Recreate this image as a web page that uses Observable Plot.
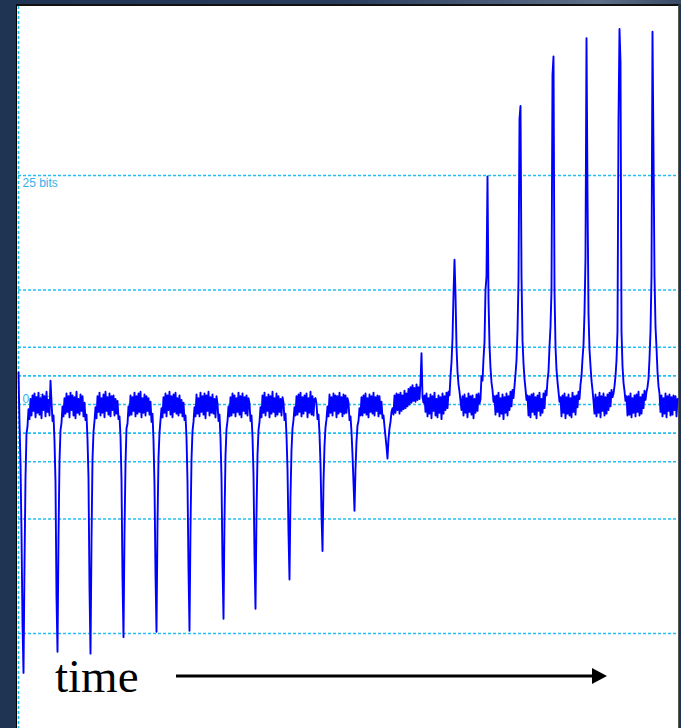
<!DOCTYPE html>
<html>
<head>
<meta charset="utf-8">
<script src="https://cdn.jsdelivr.net/npm/d3@7"></script>
<script src="https://cdn.jsdelivr.net/npm/@observablehq/plot@0.6"></script>
<style>
  html, body { margin: 0; padding: 0; }
  body { width: 681px; height: 728px; overflow: hidden; background: #1f3352; position: relative; }
  #topbar { position: absolute; left: 0; top: 0; width: 681px; height: 4px;
    background: linear-gradient(to right, #1f3352 0%, #283d5d 50%, #5f6e88 88%, #3a4a66 100%); }
  #panel { position: absolute; left: 16px; top: 4px; width: 663px; height: 724px; background: #fff;
    box-sizing: border-box; border-top: 2px solid #111; border-left: 1px solid #000; border-right: 1px solid #555; }
  #chart { position: absolute; left: 18px; top: 6px; }
  #overlay { position: absolute; left: 0; top: 0; }
</style>
</head>
<body>
<div id="topbar"></div>
<div id="panel"></div>
<div id="chart"></div>
<svg id="overlay" width="681" height="728">
  <text x="55" y="692" font-family="'Liberation Serif', 'Times New Roman', serif" font-size="47" fill="#000">time</text>
  <line x1="176" y1="676" x2="594" y2="676" stroke="#000" stroke-width="3"></line>
  <polygon points="592,668 607,676 592,684" fill="#000"></polygon>
</svg>
<script>
// Detector output sampled once per time step (bits), one row per 33-step cycle.
const signal = [
  3.5, -2.0, -6.5, -14.0, -24.0, -29.3, -17.5, -8.0, -3.2, -2.4, -0.5, -1.6, 0.6, -1.2, 1.0, -0.7, 1.2, -1.4, 0.8, -0.9, 1.3, -1.1, 0.7, -1.5, 1.1, -0.6, 0.9, -1.3, 1.4, -0.8, 0.5, -1.2, 2.6,
  0.3, -1.8, -1.2, -4.0, -8.5, -21.0, -27.0, -14.5, -6.2, -2.8, -2.0, -0.2, -1.3, 0.7, -1.0, 1.2, -0.8, 0.9, -1.4, 1.3, -0.6, 1.0, -1.2, 0.8, -1.5, 1.4, -0.9, 0.6, -1.1, 1.1, -0.7, 0.9, -1.3,
  0.2, -1.7, -1.1, -3.8, -8.0, -20.0, -27.2, -15.0, -6.0, -3.0, -1.8, -0.3, -1.5, 0.9, -0.8, 1.3, -1.2, 0.7, -0.9, 1.1, -1.4, 1.4, -0.7, 0.8, -1.1, 1.2, -1.3, 0.9, -0.6, 1.0, -1.2, 0.6, -1.0,
  0.4, -1.6, -1.3, -3.5, -8.2, -19.0, -25.4, -14.0, -6.5, -2.6, -2.1, -0.2, -1.2, 1.0, -1.1, 0.8, -0.7, 1.3, -1.3, 0.9, -1.0, 1.2, -0.8, 1.4, -1.4, 0.7, -0.9, 1.1, -1.2, 0.9, -0.7, 0.7, -1.1,
  0.3, -1.9, -1.0, -3.9, -8.8, -18.5, -24.8, -13.0, -5.8, -3.1, -1.7, -0.4, -1.4, 0.8, -0.9, 1.2, -1.3, 1.0, -0.6, 1.4, -1.1, 0.9, -1.4, 1.1, -0.8, 1.3, -1.0, 0.7, -1.2, 1.0, -0.9, 0.5, -1.3,
  0.2, -1.7, -1.2, -3.6, -8.4, -18.0, -24.7, -13.5, -6.0, -2.9, -1.9, -0.3, -1.3, 1.1, -1.0, 0.7, -1.3, 1.3, -0.8, 0.9, -1.1, 1.2, -1.5, 1.0, -0.7, 1.4, -1.2, 0.8, -0.9, 1.1, -1.0, 0.6, -1.4,
  0.9, 0.1, -1.8, -1.1, -3.7, -8.0, -17.5, -23.4, -12.5, -5.6, -2.7, -1.8, -0.2, -1.3, 0.8, -1.2, 1.2, -0.9, 1.0, -1.3, 0.7, -0.8, 1.3, -1.1, 0.9, -1.4, 1.2, -0.7, 0.8, -1.0, 1.0, -1.2, 0.7,
  0.1, -1.8, -1.2, -3.5, -7.6, -16.5, -22.3, -12.0, -5.5, -2.8, -1.9, -0.3, -1.4, 1.0, -0.9, 1.3, -1.2, 0.8, -0.7, 1.1, -1.4, 0.9, -1.0, 1.4, -0.8, 0.7, -1.3, 1.2, -1.1, 0.9, -0.8, 0.6, -1.2,
  0.8, 0.2, -1.7, -1.0, -3.4, -7.0, -14.0, -19.1, -10.0, -5.0, -2.6, -1.7, -0.3, -1.2, 0.9, -1.1, 1.1, -0.8, 1.3, -1.3, 0.8, -1.0, 1.0, -0.7, 1.2, -1.4, 0.7, -0.9, 1.4, -1.1, 0.9, -1.2, 0.6,
  0.7, 0.1, -1.6, -1.1, -3.2, -6.5, -12.0, -16.0, -8.5, -4.5, -2.5, -1.6, -0.2, -1.3, 1.1, -0.9, 0.8, -1.2, 1.2, -0.7, 1.0, -1.4, 0.9, -1.0, 1.3, -0.8, 0.8, -1.3, 1.1, -1.0, 1.0, -0.9, 0.7,
  0.2, -1.7, -1.3, -3.0, -5.5, -8.5, -11.6, -7.0, -4.0, -2.3, -1.8, -0.4, -1.2, 0.8, -1.2, 1.0, -0.9, 1.2, -1.1, 0.7, -1.4, 1.1, -0.8, 0.9, -1.0, 1.3, -1.2, 0.8, -0.7, 1.0, -1.3, 0.9, -1.0,
  0.3, -1.5, -1.2, -2.4, -3.5, -4.6, -5.9, -3.8, -2.6, -1.9, -0.8, -0.4, -1.1, 1.0, -0.9, 1.2, -0.6, 1.1, -1.0, 1.3, -0.7, 1.0, -0.5, 1.5, -0.4, 1.2, -0.2, 1.7, 0.0, 1.9, 0.2, 2.1, 0.4,
  1.8, 0.3, 2.2, 0.5, 1.9, 0.6, 2.4, 5.6, 0.8, 0.2, 1.0, -0.8, 1.2, -1.3, 0.7, -1.0, 1.1, -1.5, 0.9, -0.7, 1.3, -1.2, 0.6, -1.4, 1.0, -0.9, 0.8, -1.6, 1.2, -1.0, 0.9, -0.6, 1.3,
  -0.4, 1.4, 1.0, 3.1, 4.6, 7.2, 12.0, 15.8, 12.0, 6.3, 3.6, 2.2, 1.4, 0.4, -0.6, 0.9, -1.2, 1.1, -0.9, 0.7, -1.4, 1.2, -0.8, 0.9, -1.1, 1.0, -1.5, 0.6, -0.9, 1.1, -0.7, 1.2, 0.1,
  0.6, 3.1, 2.6, 5.0, 6.8, 12.5, 14.0, 24.9, 11.5, 6.5, 4.0, 2.4, 1.6, 0.3, 0.9, -1.1, 1.0, -0.8, 1.3, -1.3, 0.7, -1.0, 1.1, -1.6, 0.8, -0.9, 1.2, -1.2, 0.9, -0.6, 1.4, -0.2, 1.6,
  0.7, 2.0, 3.3, 4.8, 8.0, 13.5, 31.2, 32.6, 14.0, 7.0, 4.5, 2.8, 1.7, 0.5, 1.0, -1.2, 0.9, -1.4, 1.1, -0.8, 1.2, -1.1, 0.8, -1.5, 1.0, -0.7, 1.3, -1.2, 0.6, -0.9, 1.2, -0.4, 1.5,
  1.0, 2.6, 3.6, 6.3, 8.5, 12.5, 36.0, 38.0, 12.5, 6.3, 3.8, 2.5, 1.4, 0.3, 0.8, -1.3, 1.0, -0.9, 1.2, -1.5, 0.8, -1.0, 1.1, -1.2, 0.7, -1.4, 1.3, -0.8, 0.9, -1.1, 1.0, -0.3, 1.4,
  0.6, 2.2, 3.1, 5.0, 6.5, 10.0, 16.0, 40.0, 23.0, 10.0, 6.0, 4.2, 2.6, 1.6, 0.4, -1.0, 1.1, -1.3, 0.8, -0.9, 1.3, -1.4, 0.9, -0.7, 1.2, -1.2, 0.8, -1.0, 1.1, -0.6, 1.3, -0.2, 1.6,
  0.8, 1.2, 2.0, 3.1, 4.8, 8.0, 31.0, 41.0, 37.3, 8.0, 4.2, 2.4, 1.5, 0.4, 0.9, -1.2, 0.9, -1.1, 1.2, -1.4, 0.7, -0.9, 1.0, -1.3, 1.1, -0.8, 1.4, -1.2, 0.8, -1.0, 1.1, -0.4, 1.5,
  0.5, 1.4, 1.9, 2.8, 5.0, 8.0, 14.0, 40.7, 27.5, 14.0, 8.5, 6.2, 3.6, 2.0, 1.2, -0.8, 1.0, -1.3, 0.7, -1.0, 1.2, -1.4, 0.9, -0.7, 1.1, -1.2, 0.8, -1.1, 1.0, -0.6, 0.9, -1.3, 0.6
];

// Horizontal reference levels (bits) and the two labelled ones.
const gridLevels = [-25, -12.5, -6.25, -3.125, 0, 3.125, 6.25, 12.5, 25];
const upperLabel = ["25 bits"];
const upperLabelLevel = [25];
const zeroLabel = ["0 bits"];
const zeroLabelLevel = [0];

const gridColor = "#22c0f2";
const labelColor = "#38b0ea";
const traceColor = "#0000ff";

const chart = Plot.plot({
  width: 660,
  height: 722,
  margin: 0,
  x: { domain: [0, signal.length], axis: null },
  y: { domain: [-35.37, 43.45], axis: null },
  style: { background: "transparent", overflow: "visible" },
  marks: [
    Plot.ruleY(gridLevels, { stroke: gridColor, strokeWidth: 1.6, strokeDasharray: "3,2" }),
    Plot.ruleX([0], { stroke: gridColor, strokeWidth: 1.6, strokeDasharray: "3,2" }),
    Plot.text(upperLabel, {
      y: upperLabelLevel, text: d => d, frameAnchor: "left", textAnchor: "start",
      dx: 4, dy: 8, fill: labelColor, fontSize: 12, fontFamily: "'Liberation Sans', Arial, sans-serif"
    }),
    Plot.text(zeroLabel, {
      y: zeroLabelLevel, text: d => d, frameAnchor: "left", textAnchor: "start",
      dx: 4, dy: -5, fill: labelColor, fontSize: 12, fontFamily: "'Liberation Sans', Arial, sans-serif"
    }),
    Plot.line(signal, { x: (d, i) => i, y: d => d, stroke: traceColor, strokeWidth: 1.9 })
  ]
});

document.getElementById("chart").appendChild(chart);
</script>
</body>
</html>
